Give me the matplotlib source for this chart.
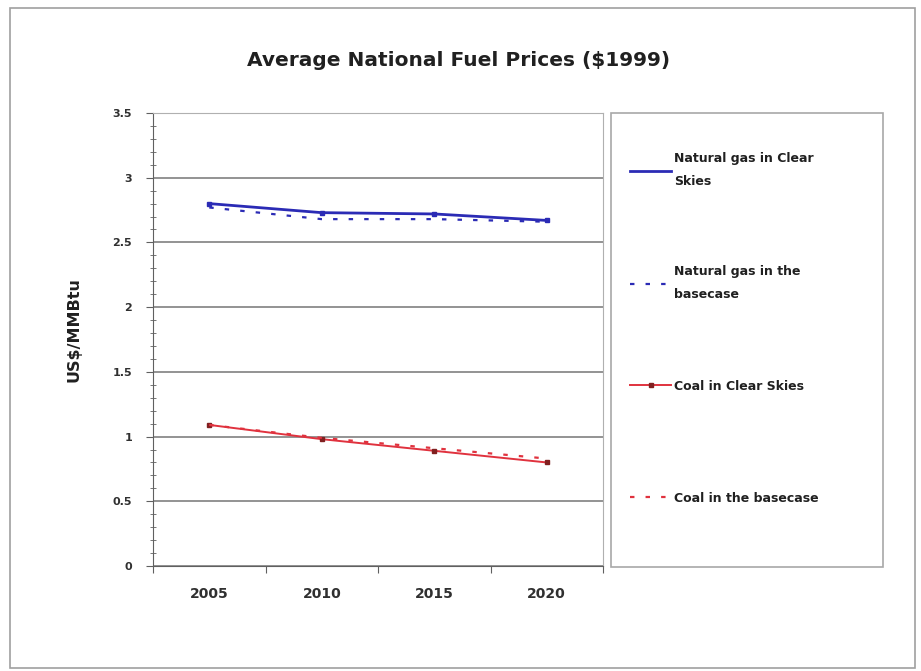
import matplotlib
matplotlib.use("Agg")
import matplotlib.pyplot as plt
from matplotlib.lines import Line2D
from matplotlib.patches import Rectangle
import numpy as np

plt.rcParams["font.family"] = ["DejaVu Sans"]

years = ["2005", "2010", "2015", "2020"]
gas_clear = [2.80, 2.73, 2.72, 2.67]
gas_base = [2.77, 2.68, 2.68, 2.66]
coal_clear = [1.09, 0.98, 0.89, 0.80]
coal_base = [1.09, 0.99, 0.91, 0.83]

labels = ["Natural gas in Clear\nSkies", "Natural gas in the\nbasecase",
          "Coal in Clear Skies", "Coal in the basecase"]

BLUE = "#2b2bb5"
RED = "#e0323e"

fig = plt.figure(figsize=(9.21, 6.71), dpi=100)
W, H = 921, 671

# outer chart border and legend box
fig.add_artist(Rectangle((10 / W, 1 - 668 / H), 905 / W, 660 / H, transform=fig.transFigure,
                         fill=False, edgecolor="#a0a0a0", linewidth=1.2))
fig.add_artist(Rectangle((611 / W, 1 - 567 / H), 272 / W, 454 / H, transform=fig.transFigure,
                         fill=False, edgecolor="#a8a8a8", linewidth=1.2))

ax = fig.add_axes([153 / W, 1 - 566 / H, 450 / W, 453 / H])
x = np.arange(len(years))

ax.plot(x, gas_clear, color=BLUE, lw=2.0, marker="s", ms=3)
ax.plot(x, gas_base, color=BLUE, lw=1.6, ls=(0, (2, 5)))
ax.plot(x, coal_clear, color=RED, lw=1.4, marker="s", ms=3, mfc="#802020", mec="#802020")
ax.plot(x, coal_base, color=RED, lw=1.6, ls=(0, (2, 5)))

ax.set_xlim(-0.5, 3.5)
ax.set_ylim(0, 3.5)
ax.set_yticks(np.arange(0, 3.51, 0.5))
ax.set_yticklabels(["0", "0.5", "1", "1.5", "2", "2.5", "3", "3.5"])
ax.set_yticks(np.arange(0, 3.51, 0.1), minor=True)
ax.yaxis.grid(True, color="#8a8a8a", lw=1.3)
ax.set_axisbelow(True)

ax.set_xticks(np.arange(-0.5, 3.6, 1))
ax.set_xticklabels([])
ax.set_xticks(x, minor=True)
ax.set_xticklabels(years, minor=True)
ax.tick_params(axis="x", which="major", direction="out", length=5, color="#606060")
ax.tick_params(axis="x", which="minor", length=0, pad=15, labelsize=10)
ax.tick_params(axis="y", which="major", direction="out", length=5, color="#606060", labelsize=8, pad=10)
ax.tick_params(axis="y", which="minor", direction="inout", length=4, color="#606060")
for lab in ax.get_xticklabels(minor=True) + ax.get_yticklabels():
    lab.set_fontweight("bold")
    lab.set_color("#303030")

for s in ["top", "right"]:
    ax.spines[s].set_color("#b0b0b0")
for s in ["left", "bottom"]:
    ax.spines[s].set_color("#606060")

ax.set_ylabel("US$/MMBtu", fontsize=11.5, fontweight="bold", color="#202020")
ax.yaxis.set_label_coords(-0.158, 0.521)

fig.text(459 / W, 1 - 60 / H, "Average National Fuel Prices ($1999)", ha="center", va="center",
         fontsize=14.5, fontweight="bold", color="#202020")

handles = [
    Line2D([], [], color=BLUE, lw=2.0),
    Line2D([], [], color=BLUE, lw=1.6, ls=(0, (2, 5))),
    Line2D([], [], color=RED, lw=1.4, marker="s", ms=2.5, mfc="#802020", mec="#802020"),
    Line2D([], [], color=RED, lw=1.6, ls=(0, (2, 5))),
]
# one legend per entry so each sits where the reference puts it
entry_centres = [170, 283, 386, 498]
for h, lab, yc in zip(handles, labels, entry_centres):
    leg = fig.legend([h], [lab], loc="center left", bbox_to_anchor=(630 / W, 1 - yc / H),
                     prop={"weight": "bold", "size": 9}, handlelength=3.3, handletextpad=0.2,
                     borderpad=0, borderaxespad=0, frameon=False)
    for t in leg.get_texts():
        t.set_color("#202020")
        t.set_linespacing(2.0)

fig.savefig("out.png", dpi=100)
